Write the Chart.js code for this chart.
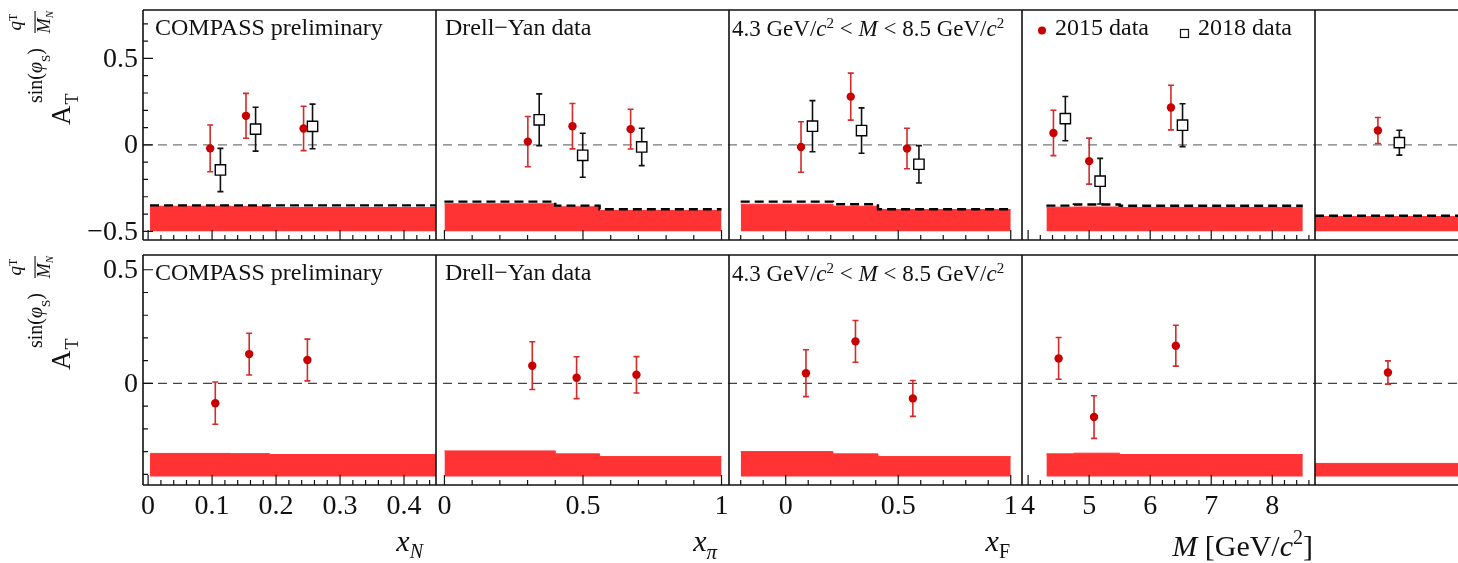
<!DOCTYPE html>
<html>
<head>
<meta charset="utf-8">
<script src="https://cdn.jsdelivr.net/npm/chart.js@4.4.1/dist/chart.umd.min.js"></script>
<style>
html, body { margin: 0; padding: 0; background: #fff; }
canvas { display: block; }
</style>
</head>
<body>
<canvas id="chart" width="1458" height="563"></canvas>
<script>
// ---- x_N bins ----
const xN15 = [0.097, 0.153, 0.243]
const xN18 = [0.113, 0.168, 0.257]
const xNTop15 = [-0.02, 0.168, 0.095]
const xNTop15Err = [0.135, 0.13, 0.128]
const xNTop18 = [-0.145, 0.091, 0.107]
const xNTop18Err = [0.125, 0.127, 0.129]
const xNBotX = [0.105, 0.158, 0.249]
const xNBot = [-0.087, 0.129, 0.103]
const xNBotErr = [0.093, 0.092, 0.092]
const xNEdges = [0.003, 0.13, 0.19, 0.45]
const xNSysTop = [-0.355, -0.357, -0.362]
const xNSysLine = [-0.35, -0.35, -0.35]
const xNSysBot = [-0.308, -0.309, -0.313]

// ---- x_pi bins ----
const xPi15 = [0.301, 0.462, 0.672]
const xPi18 = [0.342, 0.499, 0.712]
const xPiTop15 = [0.019, 0.108, 0.091]
const xPiTop15Err = [0.145, 0.131, 0.115]
const xPiTop18 = [0.145, -0.06, -0.012]
const xPiTop18Err = [0.15, 0.127, 0.108]
const xPiBotX = [0.317, 0.477, 0.693]
const xPiBot = [0.078, 0.025, 0.038]
const xPiBotErr = [0.105, 0.092, 0.08]
const xPiEdges = [0, 0.40, 0.56, 1]
const xPiSysTop = [-0.341, -0.358, -0.38]
const xPiSysLine = [-0.328, -0.351, -0.372]
const xPiSysBot = [-0.297, -0.31, -0.322]

// ---- x_F bins ----
const xF15 = [0.068, 0.289, 0.539]
const xF18 = [0.119, 0.337, 0.592]
const xFTop15 = [-0.012, 0.279, -0.021]
const xFTop15Err = [0.146, 0.136, 0.117]
const xFTop18 = [0.108, 0.083, -0.112]
const xFTop18Err = [0.148, 0.131, 0.108]
const xFBotX = [0.09, 0.31, 0.565]
const xFBot = [0.045, 0.185, -0.066]
const xFBotErr = [0.103, 0.092, 0.079]
const xFEdges = [-0.2, 0.21, 0.41, 1]
const xFSysTop = [-0.343, -0.355, -0.374]
const xFSysLine = [-0.328, -0.343, -0.372]
const xFSysBot = [-0.3, -0.31, -0.322]

// ---- M bins ----
const m15 = [4.415, 5.0, 6.34]
const m18 = [4.61, 5.18, 6.53]
const mTop15 = [0.069, -0.094, 0.216]
const mTop15Err = [0.131, 0.133, 0.129]
const mTop18 = [0.152, -0.21, 0.114]
const mTop18Err = [0.128, 0.132, 0.124]
const mBotX = [4.5, 5.08, 6.42]
const mBot = [0.11, -0.148, 0.166]
const mBotErr = [0.092, 0.094, 0.09]
const mEdges = [4.3, 4.75, 5.5, 8.5]
const mSysTop = [-0.36, -0.359, -0.362]
const mSysLine = [-0.351, -0.345, -0.352]
const mSysBot = [-0.31, -0.307, -0.313]

// ---- integrated ----
const all15 = [0.44]
const all18 = [0.59]
const allTop15 = [0.083]
const allTop15Err = [0.075]
const allTop18 = [0.013]
const allTop18Err = [0.072]
const allBotX = [0.51]
const allBot = [0.048]
const allBotErr = [0.051]
const allEdges = [0, 1]
const allSysTop = [-0.414]
const allSysLine = [-0.41]
const allSysBot = [-0.352]

const topBase = -0.5
const botBase = -0.41

// tick labels
const xNTicks = [0, 0.1, 0.2, 0.3, 0.4]
const xPiTicks = [0, 0.5, 1]
const xFTicks = [0, 0.5, 1]
const mTicks = [4, 5, 6, 7, 8]
const yTopTicks = [-0.5, 0, 0.5]
const yBotTicks = [0, 0.5]
const headers = ['COMPASS preliminary', 'Drell\u2212Yan data']
const legendLabels = ['2015 data', '2018 data']

const red = '#c80000'
const redBar = '#d42a2a'
const band = 'rgb(255,51,51)'
const serif = '"Liberation Serif", "Times New Roman", serif'

const cols = [
    {id: 'xN', min: -0.008, max: 0.45, w: 293, ticks: xNTicks, step: 0.02},
    {id: 'xPi', min: -0.0305, max: 1.027, w: 293, ticks: xPiTicks, step: 0.1},
    {id: 'xF', min: -0.252, max: 1.05, w: 293, ticks: xFTicks, step: 0.1},
    {id: 'xM', min: 3.9, max: 8.7, w: 293, ticks: mTicks, step: 0.2},
    {id: 'xAll', min: 0, max: 1, w: 143, ticks: [], step: 0}
]
const colData = [
    {x15: xN15, x18: xN18, t15: xNTop15, t15e: xNTop15Err, t18: xNTop18, t18e: xNTop18Err, bx: xNBotX, b: xNBot, be: xNBotErr, edges: xNEdges, sysTop: xNSysTop, sysLine: xNSysLine, sysBot: xNSysBot},
    {x15: xPi15, x18: xPi18, t15: xPiTop15, t15e: xPiTop15Err, t18: xPiTop18, t18e: xPiTop18Err, bx: xPiBotX, b: xPiBot, be: xPiBotErr, edges: xPiEdges, sysTop: xPiSysTop, sysLine: xPiSysLine, sysBot: xPiSysBot},
    {x15: xF15, x18: xF18, t15: xFTop15, t15e: xFTop15Err, t18: xFTop18, t18e: xFTop18Err, bx: xFBotX, b: xFBot, be: xFBotErr, edges: xFEdges, sysTop: xFSysTop, sysLine: xFSysLine, sysBot: xFSysBot},
    {x15: m15, x18: m18, t15: mTop15, t15e: mTop15Err, t18: mTop18, t18e: mTop18Err, bx: mBotX, b: mBot, be: mBotErr, edges: mEdges, sysTop: mSysTop, sysLine: mSysLine, sysBot: mSysBot},
    {x15: all15, x18: all18, t15: allTop15, t15e: allTop15Err, t18: allTop18, t18e: allTop18Err, bx: allBotX, b: allBot, be: allBotErr, edges: allEdges, sysTop: allSysTop, sysLine: allSysLine, sysBot: allSysBot}
]

function pts(xs, ys) {
    return xs.map((x, i) => ({x: x, y: ys[i]}))
}
function stepPts(edges, vals) {
    const d = vals.map((v, i) => ({x: edges[i], y: v}))
    d.push({x: edges[edges.length - 1], y: vals[vals.length - 1]})
    return d
}
function font(size, italic) {
    return (italic ? 'italic ' : '') + size + 'px ' + serif
}
// parts: [text, size, italic, dy]
function rich(ctx, parts, x, y, align) {
    let w = 0
    parts.forEach(p => { ctx.font = font(p[1], p[2]); w += ctx.measureText(p[0]).width })
    let cx = align === 'right' ? x - w : (align === 'center' ? x - w / 2 : x)
    ctx.textAlign = 'left'
    parts.forEach(p => {
        ctx.font = font(p[1], p[2])
        ctx.fillText(p[0], cx, y + (p[3] || 0))
        cx += ctx.measureText(p[0]).width
    })
    return w
}
function fmt(v) {
    return v < 0 ? '\u2212' + String(-v) : String(v)
}

const datasets = []
colData.forEach((d, c) => {
    const xid = cols[c].id
    datasets.push({type: 'scatter', xAxisID: xid, yAxisID: 'yTop', data: pts(d.x15, d.t15), errors: d.t15e, errorColor: redBar,
        pointStyle: 'circle', pointRadius: 4.2, backgroundColor: red, borderColor: red, borderWidth: 0, order: 0})
    datasets.push({type: 'scatter', xAxisID: xid, yAxisID: 'yTop', data: pts(d.x18, d.t18), errors: d.t18e, errorColor: '#111',
        pointStyle: 'rect', pointRadius: 7.3, backgroundColor: '#fff', borderColor: '#000', borderWidth: 1.4, order: 0})
    datasets.push({type: 'line', xAxisID: xid, yAxisID: 'yTop', data: stepPts(d.edges, d.sysLine), stepped: true,
        borderColor: '#000', borderWidth: 2.4, borderDash: [9, 5], pointRadius: 0, fill: false, order: 1})
    datasets.push({type: 'line', xAxisID: xid, yAxisID: 'yTop', data: stepPts(d.edges, d.sysTop), stepped: true,
        borderColor: band, borderWidth: 1, backgroundColor: band, fill: {value: topBase}, pointRadius: 0, order: 2})
    datasets.push({type: 'scatter', xAxisID: xid, yAxisID: 'yBot', data: pts(d.bx, d.b), errors: d.be, errorColor: redBar,
        pointStyle: 'circle', pointRadius: 4.2, backgroundColor: red, borderColor: red, borderWidth: 0, order: 0})
    datasets.push({type: 'line', xAxisID: xid, yAxisID: 'yBot', data: stepPts(d.edges, d.sysBot), stepped: true,
        borderColor: band, borderWidth: 1, backgroundColor: band, fill: {value: botBase}, pointRadius: 0, order: 2})
})

const scales = {}
cols.forEach(c => {
    scales[c.id] = {type: 'linear', axis: 'x', position: 'bottom', stack: 'cols', stackWeight: c.w,
        min: c.min, max: c.max, bounds: 'data',
        grid: {display: false, drawTicks: false}, border: {display: false}, ticks: {display: false},
        afterFit: s => { s.height = 78 }}
})
const rows = [
    {id: 'yTop', min: -0.55, max: 0.78, w: 230, weight: 3, ticks: yTopTicks},
    {id: 'yGap', min: 0, max: 1, w: 15, weight: 2, ticks: []},
    {id: 'yBot', min: -0.447, max: 0.565, w: 230, weight: 1, ticks: yBotTicks}
]
rows.forEach(r => {
    scales[r.id] = {type: 'linear', axis: 'y', position: 'left', stack: 'rows', stackWeight: r.w, weight: r.weight,
        min: r.min, max: r.max, bounds: 'data',
        grid: {display: false, drawTicks: false}, border: {display: false}, ticks: {display: false},
        afterFit: s => { s.width = 143 }}
})

const errorBars = {
    id: 'errorBars',
    beforeDatasetDraw(chart, args) {
        const ds = chart.data.datasets[args.index]
        if (!ds.errors) return
        const ys = chart.scales[ds.yAxisID]
        const ctx = chart.ctx
        ctx.save()
        ctx.strokeStyle = ds.errorColor
        ctx.lineWidth = 1.6
        args.meta.data.forEach((pt, i) => {
            const v = ds.data[i].y, e = ds.errors[i]
            const y1 = ys.getPixelForValue(v + e), y2 = ys.getPixelForValue(v - e)
            ctx.beginPath()
            ctx.moveTo(pt.x, y1); ctx.lineTo(pt.x, y2)
            ctx.moveTo(pt.x - 3, y1); ctx.lineTo(pt.x + 3, y1)
            ctx.moveTo(pt.x - 3, y2); ctx.lineTo(pt.x + 3, y2)
            ctx.stroke()
        })
        ctx.restore()
    }
}

function drawYTitle(ctx, ox, oy) {
    ctx.save()
    ctx.translate(ox, oy)
    ctx.rotate(-Math.PI / 2)
    ctx.textAlign = 'left'
    ctx.font = font(27, false)
    ctx.fillText('A', 0, 0)
    const wA = ctx.measureText('A').width
    ctx.font = font(18, false)
    ctx.fillText('T', wA + 1, 8)
    rich(ctx, [['sin(', 20, false, 0], ['\u03C6', 20, true, 0], ['S', 13, false, 8], [')', 20, false, 0]], 22, -28, 'left')
    // fraction q_T / M_N
    const fx = 92, fw = 22
    rich(ctx, [['q', 19, true, 0], ['T', 12, false, -4]], fx + fw / 2, -49, 'center')
    rich(ctx, [['M', 18, true, 0], ['N', 11, true, 3]], fx + fw / 2, -20, 'center')
    ctx.fillRect(fx, -35.5, fw, 1.1)
    ctx.restore()
}

const frames = {
    id: 'frames',
    beforeDatasetsDraw(chart) {
        const ctx = chart.ctx
        const left = chart.scales.xN.left, right = chart.chartArea.right
        ctx.save()
        ;[['yTop', '#777'], ['yBot', '#444']].forEach(r => {
            ctx.setLineDash([9, 6])
            ctx.lineWidth = 1.3
            ctx.strokeStyle = r[1]
            const y = chart.scales[r[0]].getPixelForValue(0)
            ctx.beginPath(); ctx.moveTo(left, y); ctx.lineTo(right, y); ctx.stroke()
        })
        ctx.restore()
    },
    afterDatasetsDraw(chart) {
        const ctx = chart.ctx
        const right = chart.chartArea.right
        ctx.save()
        ctx.strokeStyle = '#111'
        ;['yTop', 'yBot'].forEach(rid => {
            const ys = chart.scales[rid]
            // frame
            ctx.lineWidth = 1.6
            ctx.beginPath()
            ctx.moveTo(chart.scales.xN.left, ys.top); ctx.lineTo(right, ys.top)
            ctx.moveTo(chart.scales.xN.left, ys.bottom); ctx.lineTo(right, ys.bottom)
            cols.forEach(c => {
                const xs = chart.scales[c.id]
                ctx.moveTo(xs.left, ys.top); ctx.lineTo(xs.left, ys.bottom)
            })
            ctx.stroke()
            // x ticks, pointing up
            ctx.lineWidth = 1.2
            ctx.beginPath()
            cols.forEach(c => {
                if (!c.step) return
                const xs = chart.scales[c.id]
                const k0 = Math.ceil(c.min / c.step - 1e-6), k1 = Math.floor(c.max / c.step + 1e-6)
                for (let k = k0; k <= k1; k++) {
                    const v = k * c.step
                    const major = c.ticks.some(t => Math.abs(t - v) < 1e-6)
                    const x = xs.getPixelForValue(v)
                    ctx.moveTo(x, ys.bottom); ctx.lineTo(x, ys.bottom - (major ? 10 : 5))
                }
            })
            // y ticks on the left edge
            const r = rows.find(o => o.id === rid)
            const x0 = chart.scales.xN.left
            for (let k = Math.ceil(r.min / 0.1 - 1e-6); k <= Math.floor(r.max / 0.1 + 1e-6); k++) {
                const v = k * 0.1
                const major = r.ticks.some(t => Math.abs(t - v) < 1e-6)
                const y = ys.getPixelForValue(v)
                ctx.moveTo(x0, y); ctx.lineTo(x0 + (major ? 10 : 5), y)
            }
            ctx.stroke()
        })
        ctx.restore()
    },
    afterDraw(chart) {
        const ctx = chart.ctx
        ctx.save()
        ctx.fillStyle = '#111'
        // x tick labels
        ctx.font = font(28, false)
        ctx.textAlign = 'center'
        ctx.textBaseline = 'alphabetic'
        cols.forEach(c => {
            const xs = chart.scales[c.id]
            c.ticks.forEach(t => ctx.fillText(fmt(t), xs.getPixelForValue(t), 514))
        })
        // y tick labels
        ctx.textAlign = 'right'
        ctx.textBaseline = 'middle'
        ;['yTop', 'yBot'].forEach(rid => {
            const ys = chart.scales[rid]
            const r = rows.find(o => o.id === rid)
            r.ticks.forEach(t => ctx.fillText(fmt(t), 138, ys.getPixelForValue(t) + 1))
        })
        ctx.textBaseline = 'alphabetic'
        // panel headers
        ;['yTop', 'yBot'].forEach(rid => {
            const top = chart.scales[rid].top
            rich(ctx, [[headers[0], 24, false, 0]], chart.scales.xN.left + 12, top + 25, 'left')
            rich(ctx, [[headers[1], 24, false, 0]], chart.scales.xPi.left + 9, top + 25, 'left')
            rich(ctx, [['4.3 GeV/', 23, false, 0], ['c', 23, true, 0], ['2', 15, false, -8], [' < ', 23, false, 0], ['M', 23, true, 0],
                [' < 8.5 GeV/', 23, false, 0], ['c', 23, true, 0], ['2', 15, false, -8]], chart.scales.xF.left + 3, top + 26, 'left')
        })
        // legend
        const lx = chart.scales.xM.left, ly = chart.scales.yTop.top
        ctx.fillStyle = red
        ctx.beginPath(); ctx.arc(lx + 20, ly + 20.5, 4, 0, 2 * Math.PI); ctx.fill()
        ctx.fillStyle = '#111'
        rich(ctx, [[legendLabels[0], 24, false, 0]], lx + 33, ly + 25, 'left')
        ctx.strokeStyle = '#111'
        ctx.lineWidth = 1.2
        ctx.strokeRect(lx + 158.5, ly + 19.5, 8, 8)
        rich(ctx, [[legendLabels[1], 24, false, 0]], lx + 176, ly + 25, 'left')
        // axis titles
        rich(ctx, [['x', 30, true, 0], ['N', 20, true, 7]], chart.scales.xN.right - 13, 551, 'right')
        rich(ctx, [['x', 30, true, 0], ['\u03C0', 21, true, 8]], chart.scales.xPi.right - 12, 551, 'right')
        rich(ctx, [['x', 30, true, 0], ['F', 20, false, 7]], chart.scales.xF.right - 12, 551, 'right')
        rich(ctx, [['M', 30, true, 0], [' [GeV/', 30, false, 0], ['c', 30, true, 0], ['2', 20, false, -12], [']', 30, false, 0]],
            chart.scales.xM.right - 2, 556, 'right')
        // y titles
        drawYTitle(ctx, 70, chart.scales.yTop.top + 115)
        drawYTitle(ctx, 70, chart.scales.yBot.top + 115)
        ctx.restore()
    }
}

const chart = new Chart(document.getElementById('chart'), {
    type: 'scatter',
    data: {datasets: datasets},
    options: {
        responsive: false,
        animation: false,
        devicePixelRatio: 1,
        events: [],
        layout: {autoPadding: false, padding: {top: 10, left: 0, right: 0, bottom: 0}},
        plugins: {legend: {display: false}, tooltip: {enabled: false}},
        scales: scales
    },
    plugins: [errorBars, frames]
})
</script>
</body>
</html>
